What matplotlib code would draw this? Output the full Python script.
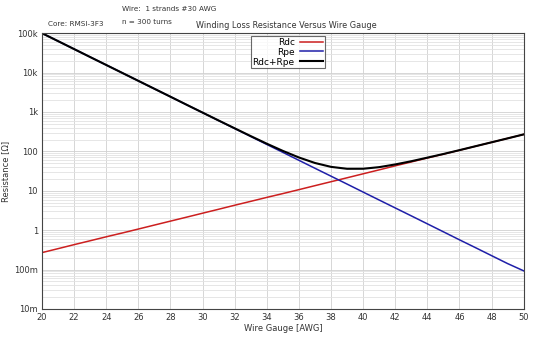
import matplotlib
matplotlib.use("Agg")
import matplotlib.pyplot as plt
from matplotlib.ticker import FixedLocator, LogLocator, NullFormatter
import numpy as np

plt.rcParams['font.family'] = ['DejaVu Sans']

awg = list(range(20, 51))
rdc = [0.27, 0.34, 0.43, 0.54, 0.68, 0.85, 1.07, 1.35, 1.7, 2.14,
       2.7, 3.4, 4.3, 5.4, 6.8, 8.5, 10.7, 13.5, 17, 21.4,
       27, 34, 43, 54, 68, 85, 107, 135, 170, 214, 270]
rpe = [100000, 62900, 39500, 24800, 15600, 9810, 6170, 3880, 2440, 1530,
       963, 605, 381, 239, 150, 94.5, 59.4, 37.3, 23.5, 14.8,
       9.28, 5.83, 3.67, 2.31, 1.45, 0.91, 0.57, 0.36, 0.226, 0.142, 0.093]
rtot = [a + b for a, b in zip(rdc, rpe)]

xticks = list(range(20, 51, 2))
yticks = [1e-2, 1e-1, 1, 10, 100, 1e3, 1e4, 1e5]
ylabels = ["10m", "100m", "1", "10", "100", "1k", "10k", "100k"]

fig = plt.figure(figsize=(5.4, 3.38), dpi=100)
ax = fig.add_axes([0.0778, 0.0858, 0.892, 0.816])

ax.semilogy(awg, rdc, color="#cc1f1f", lw=1.1, label="Rdc")
ax.semilogy(awg, rpe, color="#1f1fa8", lw=1.1, label="Rpe")
ax.semilogy(awg, rtot, color="black", lw=1.5, label="Rdc+Rpe")

ax.set_xlim(20, 50)
ax.set_ylim(1e-2, 1e5)
ax.set_xticks(xticks)
ax.set_xticklabels([str(t) for t in xticks])
ax.yaxis.set_major_locator(FixedLocator(yticks))
ax.set_yticklabels(ylabels)
ax.yaxis.set_minor_locator(LogLocator(base=10, subs=np.arange(2, 10), numticks=20))
ax.yaxis.set_minor_formatter(NullFormatter())

ax.grid(True, which="major", color="#d0d0d0", lw=0.6)
ax.grid(True, which="minor", axis="y", color="#e2e2e2", lw=0.6)
ax.set_axisbelow(True)
ax.tick_params(which="both", length=0, labelsize=6, colors="#333333", pad=3)
for s in ax.spines.values():
    s.set_color("#444444")
    s.set_linewidth(0.8)

ax.set_xlabel("Wire Gauge [AWG]", fontsize=6, color="#333333", labelpad=1)
ax.set_ylabel("Resistance [\u03a9]", fontsize=6, color="#333333")
ax.yaxis.set_label_coords(-0.066, 0.5)

leg = ax.legend(loc="upper center", bbox_to_anchor=(0.51, 0.99), fontsize=6.5,
                markerfirst=False, frameon=True, fancybox=False,
                handlelength=2.5, borderpad=0.2, labelspacing=0.1,
                handletextpad=0.6, borderaxespad=0)
leg.get_frame().set_edgecolor("#444444")
leg.get_frame().set_linewidth(0.8)
for t in leg.get_texts():
    t.set_ha("right")

fig.text(0.089, 0.930, "Core: RMSI-3F3", fontsize=5.2, color="#333333", va="center")
fig.text(0.226, 0.972, "Wire:  1 strands #30 AWG", fontsize=5.2, color="#333333", va="center")
fig.text(0.226, 0.934, "n = 300 turns", fontsize=5.2, color="#333333", va="center")
fig.text(0.53, 0.925, "Winding Loss Resistance Versus Wire Gauge", fontsize=5.9,
         color="#333333", ha="center", va="center")

fig.savefig("out.png", dpi=100)
